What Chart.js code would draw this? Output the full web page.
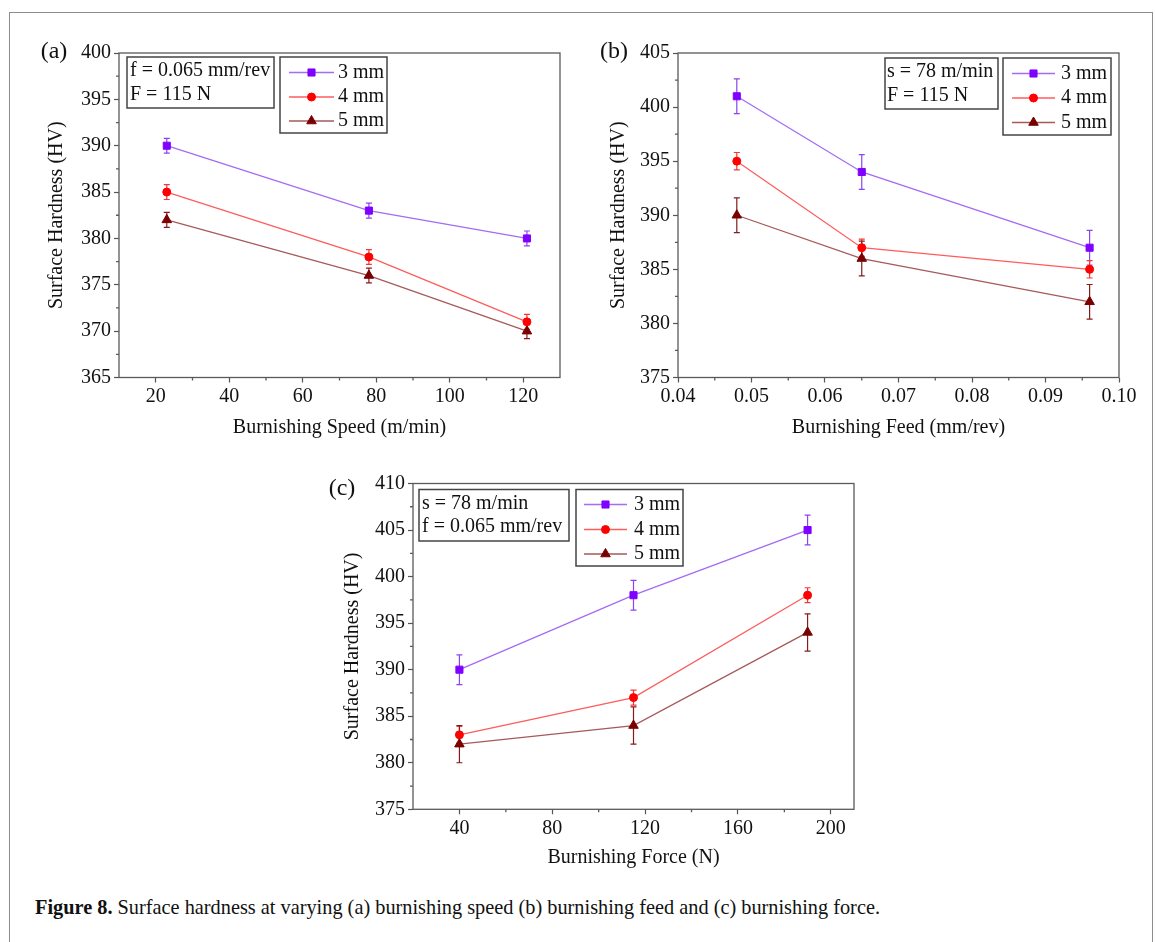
<!DOCTYPE html>
<html>
<head>
<meta charset="utf-8">
<script src="https://cdn.jsdelivr.net/npm/chart.js@4.4.1/dist/chart.umd.min.js"></script>
<style>
  body { margin:0; background:#fff; width:1155px; height:942px; overflow:hidden; position:relative; font-family:"Liberation Serif", "Times New Roman", serif; color:#111; }
  .frame { position:absolute; left:9px; top:12px; width:1142px; height:980px; border:1.5px solid #8c8c8c; }
  canvas { position:absolute; }
  .lbl { position:absolute; font-size:24px; transform:translate(-50%,-50%); line-height:1; }
  #cap { position:absolute; left:35px; top:908px; font-size:21px; white-space:nowrap; transform-origin:0 50%; line-height:1; margin-top:-11px; }
</style>
</head>
<body>
<div class="frame"></div>
<canvas id="ca" width="575" height="445" style="left:0;top:0"></canvas>
<canvas id="cb" width="580" height="445" style="left:575px;top:0"></canvas>
<canvas id="cc" width="575" height="440" style="left:300px;top:445px"></canvas>
<div class="lbl" style="left:54px;top:50px">(a)</div>
<div class="lbl" style="left:614px;top:50px">(b)</div>
<div class="lbl" style="left:342px;top:487px">(c)</div>
<div id="cap"><b>Figure 8.</b> Surface hardness at varying (a) burnishing speed (b) burnishing feed and (c) burnishing force.</div>
<script>
// ball diameters
const seriesNames = ['3 mm', '4 mm', '5 mm'];

// (a) burnishing speed
const speedX = [23, 78, 121];
const speed3mm = [390, 383, 380];
const speed4mm = [385, 378, 371];
const speed5mm = [382, 376, 370];
const speedErr3mm = [0.8, 0.8, 0.8];
const speedErr4mm = [0.8, 0.8, 0.8];
const speedErr5mm = [0.8, 0.8, 0.8];
const speedTicks = ['20', '40', '60', '80', '100', '120'];
const hardTicksA = ['365', '370', '375', '380', '385', '390', '395', '400'];

// (b) burnishing feed
const feedX = [0.048, 0.065, 0.096];
const feed3mm = [401, 394, 387];
const feed4mm = [395, 387, 385];
const feed5mm = [390, 386, 382];
const feedErr3mm = [1.6, 1.6, 1.6];
const feedErr4mm = [0.8, 0.8, 0.8];
const feedErr5mm = [1.6, 1.6, 1.6];
const feedTicks = ['0.04', '0.05', '0.06', '0.07', '0.08', '0.09', '0.10'];
const hardTicksB = ['375', '380', '385', '390', '395', '400', '405'];

// (c) burnishing force
const forceX = [40, 115, 190];
const force3mm = [390, 398, 405];
const force4mm = [383, 387, 398];
const force5mm = [382, 384, 394];
const forceErr3mm = [1.6, 1.6, 1.6];
const forceErr4mm = [0.9, 0.8, 0.8];
const forceErr5mm = [2.0, 2.0, 2.0];
const forceTicks = ['40', '80', '120', '160', '200'];
const hardTicksC = ['375', '380', '385', '390', '395', '400', '405', '410'];

const lineColors = ['#a36cf2', '#ff5c5c', '#a65a5a'];
const markerColors = ['#7f00ff', '#ff0000', '#7a0000'];
const errColors = ['#8a45f0', '#f03a3a', '#841c1c'];
const pointStyles = ['rect', 'circle', 'triangle'];
const pointSizes = [5, 4, 5.5];

const FONT = '"Liberation Serif", "Times New Roman", serif';
Chart.defaults.font.family = FONT;
Chart.defaults.font.size = 20;
Chart.defaults.color = '#111';

function drawMarker(ctx, style, r, x, y) {
  if (Chart.helpers && Chart.helpers.drawPoint) {
    Chart.helpers.drawPoint(ctx, {pointStyle: style, radius: r, rotation: 0, borderWidth: 1}, x, y);
    return;
  }
  ctx.beginPath();
  ctx.arc(x, y, r, 0, Math.PI * 2);
  ctx.fill();
}

const panelPlugin = {
  id: 'panelPlugin',
  beforeDatasetsDraw(chart) {
    const ctx = chart.ctx, xs = chart.scales.x, ys = chart.scales.y;
    ctx.save();
    chart.data.datasets.forEach((ds, i) => {
      ctx.strokeStyle = errColors[i];
      ctx.lineWidth = 1.2;
      ds.data.forEach((p, j) => {
        const e = ds.errors[j];
        const px = xs.getPixelForValue(p.x);
        const top = ys.getPixelForValue(p.y + e), bot = ys.getPixelForValue(p.y - e);
        ctx.beginPath();
        ctx.moveTo(px, top); ctx.lineTo(px, bot);
        ctx.moveTo(px - 3, top); ctx.lineTo(px + 3, top);
        ctx.moveTo(px - 3, bot); ctx.lineTo(px + 3, bot);
        ctx.stroke();
      });
    });
    ctx.restore();
  },
  afterDraw(chart) {
    const ctx = chart.ctx, a = chart.chartArea;
    const o = chart.options.plugins.panelPlugin;
    ctx.save();
    // frame
    ctx.strokeStyle = '#5a5a5a';
    ctx.lineWidth = 1.3;
    ctx.strokeRect(a.left, a.top, a.right - a.left, a.bottom - a.top);
    // minor ticks
    ctx.beginPath();
    ['x', 'y'].forEach(k => {
      const s = chart.scales[k], t = s.ticks;
      for (let i = 0; i + 1 < t.length; i++) {
        const p = s.getPixelForValue((t[i].value + t[i + 1].value) / 2);
        if (k === 'x') { ctx.moveTo(p, a.bottom); ctx.lineTo(p, a.bottom + 3); }
        else { ctx.moveTo(a.left, p); ctx.lineTo(a.left - 3, p); }
      }
    });
    ctx.stroke();
    // annotation box
    ctx.strokeStyle = '#444';
    ctx.lineWidth = 1.5;
    const n = o.note;
    ctx.fillStyle = '#fff';
    ctx.fillRect(n.box[0], n.box[1], n.box[2] - n.box[0], n.box[3] - n.box[1]);
    ctx.strokeRect(n.box[0], n.box[1], n.box[2] - n.box[0], n.box[3] - n.box[1]);
    ctx.fillStyle = '#111';
    ctx.font = '20px ' + FONT;
    ctx.textBaseline = 'middle';
    ctx.textAlign = 'left';
    n.lines.forEach((txt, i) => ctx.fillText(txt, n.tx, n.rows[i]));
    // legend
    const g = o.legend;
    ctx.fillStyle = '#fff';
    ctx.fillRect(g.box[0], g.box[1], g.box[2] - g.box[0], g.box[3] - g.box[1]);
    ctx.strokeRect(g.box[0], g.box[1], g.box[2] - g.box[0], g.box[3] - g.box[1]);
    chart.data.datasets.forEach((ds, i) => {
      const y = g.rows[i];
      ctx.strokeStyle = ds.borderColor;
      ctx.lineWidth = 1.3;
      ctx.beginPath(); ctx.moveTo(g.x0, y); ctx.lineTo(g.x1, y); ctx.stroke();
      ctx.fillStyle = markerColors[i];
      ctx.strokeStyle = markerColors[i];
      ctx.lineWidth = 1;
      drawMarker(ctx, pointStyles[i], pointSizes[i], (g.x0 + g.x1) / 2, y);
      ctx.fillStyle = '#111';
      ctx.fillText(ds.label, g.tx, y);
    });
    ctx.restore();
  }
};

function makePanel(id, cfg) {
  const datasets = cfg.series.map((vals, i) => ({
    label: seriesNames[i],
    data: cfg.x.map((x, j) => ({x: x, y: vals[j]})),
    errors: cfg.err[i],
    borderColor: lineColors[i],
    backgroundColor: markerColors[i],
    pointBackgroundColor: markerColors[i],
    pointBorderColor: markerColors[i],
    pointStyle: pointStyles[i],
    pointRadius: pointSizes[i],
    pointBorderWidth: 1,
    borderWidth: 1.3,
    tension: 0
  }));
  const tickGrid = {display: true, drawOnChartArea: false, drawTicks: true, tickLength: 5, tickColor: '#555', tickWidth: 1.2};
  new Chart(document.getElementById(id), {
    type: 'line',
    data: {datasets: datasets},
    options: {
      responsive: false,
      animation: false,
      devicePixelRatio: 1,
      layout: {padding: {top: cfg.pad[0], right: cfg.pad[1], bottom: 0, left: 0}},
      plugins: {
        legend: {display: false},
        tooltip: {enabled: false},
        panelPlugin: {note: cfg.note, legend: cfg.legend}
      },
      scales: {
        x: {
          type: 'linear', min: cfg.xRange[0], max: cfg.xRange[1],
          border: {display: false},
          grid: tickGrid,
          afterBuildTicks: s => { s.ticks = cfg.xTicks.map(v => ({value: parseFloat(v)})); },
          afterFit: s => { s.height = cfg.xH; },
          ticks: {padding: 2, maxRotation: 0, autoSkip: false, callback: (v, i) => cfg.xTicks[i]},
          title: {display: true, text: cfg.xTitle, font: {size: 20}, padding: {top: 0, bottom: cfg.xTitlePad}}
        },
        y: {
          type: 'linear', min: cfg.yRange[0], max: cfg.yRange[1],
          border: {display: false},
          grid: tickGrid,
          afterBuildTicks: s => { s.ticks = cfg.yTicks.map(v => ({value: parseFloat(v)})); },
          afterFit: s => { s.width = cfg.yW; },
          ticks: {padding: 3, autoSkip: false, callback: (v, i) => cfg.yTicks[i]},
          title: {display: true, text: 'Surface Hardness (HV)', font: {size: 20}, padding: {top: cfg.yTitlePad, bottom: 0}}
        }
      }
    },
    plugins: [panelPlugin]
  });
}

makePanel('ca', {
  x: speedX, series: [speed3mm, speed4mm, speed5mm], err: [speedErr3mm, speedErr4mm, speedErr5mm],
  xRange: [10, 130], yRange: [365, 400], xTicks: speedTicks, yTicks: hardTicksA,
  xTitle: 'Burnishing Speed (m/min)',
  pad: [53, 15], yW: 119, xH: 67.5, xTitlePad: 5, yTitlePad: 45,
  note: {box: [127, 57, 274, 108], tx: 130, rows: [71, 95], lines: ['f = 0.065 mm/rev', 'F = 115 N']},
  legend: {box: [280, 57, 387, 133], x0: 289, x1: 334, tx: 338, rows: [72.5, 97, 121]}
});

makePanel('cb', {
  x: feedX, series: [feed3mm, feed4mm, feed5mm], err: [feedErr3mm, feedErr4mm, feedErr5mm],
  xRange: [0.04, 0.10], yRange: [375, 405], xTicks: feedTicks, yTicks: hardTicksB,
  xTitle: 'Burnishing Feed (mm/rev)',
  pad: [53, 36], yW: 103, xH: 67.5, xTitlePad: 5, yTitlePad: 31.5,
  note: {box: [310, 58, 423, 109], tx: 312, rows: [72, 96], lines: ['s = 78 m/min', 'F = 115 N']},
  legend: {box: [428, 58, 536, 135], x0: 437, x1: 480, tx: 486, rows: [73.5, 98, 122.5]}
});

makePanel('cc', {
  x: forceX, series: [force3mm, force4mm, force5mm], err: [forceErr3mm, forceErr4mm, forceErr5mm],
  xRange: [20, 210], yRange: [375, 410], xTicks: forceTicks, yTicks: hardTicksC,
  xTitle: 'Burnishing Force (N)',
  pad: [38.5, 21], yW: 113, xH: 75.7, xTitlePad: 15, yTitlePad: 41,
  note: {box: [119, 44.5, 269, 96], tx: 122, rows: [58.5, 82], lines: ['s = 78 m/min', 'f = 0.065 mm/rev']},
  legend: {box: [276, 44.5, 383, 121], x0: 284, x1: 327, tx: 334, rows: [59.5, 84.5, 109]}
});

// squeeze the caption to the printed width
const cap = document.getElementById('cap');
cap.style.transform = 'scaleX(' + (845 / cap.getBoundingClientRect().width) + ')';
</script>
</body>
</html>
